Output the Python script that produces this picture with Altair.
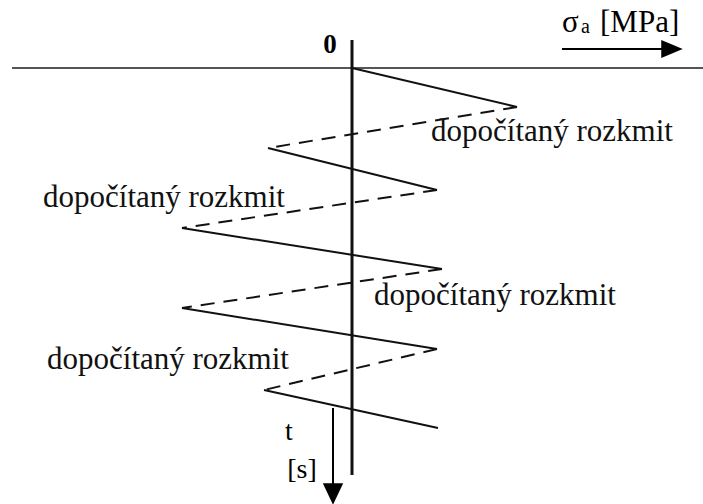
import altair as alt
import pandas as pd

# Stress amplitude turning points (sigma) over time t, plotted downward
sigma_points = [0, 165, -84, 85, -170, 90, -170, 85, -88, 86]
time_points = [0, 39, 80, 122, 160, 201, 240, 281, 322, 360]
# Each half-cycle: measured (solid) or computed/added (dashed)
segment_kind = ["solid", "dashed", "solid", "dashed", "solid",
                "dashed", "solid", "dashed", "solid"]

label_text = "dopočítaný rozkmit"
label_sigma = [200, -188, 143, -184]
label_time = [64, 130, 228, 292]

W, H = 703, 504
SIG_DOMAIN = [-352, 351]
T_DOMAIN = [-68, 436]
SERIF = "'Liberation Serif', 'Times New Roman', 'DejaVu Serif', serif"

xs = alt.Scale(domain=SIG_DOMAIN, nice=False, zero=False)
ys = alt.Scale(domain=T_DOMAIN, nice=False, zero=False, reverse=True)

segments = pd.DataFrame({
    "s0": sigma_points[:-1], "s1": sigma_points[1:],
    "t0": time_points[:-1], "t1": time_points[1:],
    "kind": segment_kind,
})


def seg_layer(kind, dash):
    props = dict(color="#111", strokeWidth=2)
    if dash:
        props["strokeDash"] = dash
    return alt.Chart(segments).transform_filter(
        alt.datum.kind == kind
    ).mark_rule(**props).encode(
        x=alt.X("s0:Q", scale=xs, axis=None),
        y=alt.Y("t0:Q", scale=ys, axis=None),
        x2="s1:Q", y2="t1:Q",
    )


solid = seg_layer("solid", None)
dashed = seg_layer("dashed", [14, 9])

# Coordinate axes
axes_df = pd.DataFrame({
    "s0": [-340, 0], "s1": [351, 0],
    "t0": [0, -28], "t1": [0, 407],
    "w": [2, 3], "c": ["#555", "#111"],
})
axes_lines = alt.Chart(axes_df).mark_rule().encode(
    x=alt.X("s0:Q", scale=xs, axis=None),
    y=alt.Y("t0:Q", scale=ys, axis=None),
    x2="s1:Q", y2="t1:Q",
    strokeWidth=alt.StrokeWidth("w:Q", scale=None, legend=None),
    color=alt.Color("c:N", scale=None, legend=None),
)

# Direction arrows for sigma and t
arrow_df = pd.DataFrame({
    "s0": [210, -19], "s1": [312, -19],
    "t0": [-19, 340], "t1": [-19, 418],
})
arrow_lines = alt.Chart(arrow_df).mark_rule(color="#000", strokeWidth=2).encode(
    x=alt.X("s0:Q", scale=xs, axis=None),
    y=alt.Y("t0:Q", scale=ys, axis=None),
    x2="s1:Q", y2="t1:Q",
)
heads_df = pd.DataFrame({
    "s": [320, -19], "t": [-19, 426],
    "shape": ["M-1,-0.85L1,0L-1,0.85Z", "M-0.95,-1L0.95,-1L0,1Z"],
})
heads = alt.Chart(heads_df).mark_point(
    filled=True, color="#000", opacity=1, size=460, strokeWidth=0
).encode(
    x=alt.X("s:Q", scale=xs, axis=None),
    y=alt.Y("t:Q", scale=ys, axis=None),
    shape=alt.Shape("shape:N", scale=None, legend=None),
)

labels_df = pd.DataFrame({"s": label_sigma, "t": label_time, "txt": [label_text] * 4})
labels = alt.Chart(labels_df).mark_text(
    font=SERIF, fontSize=31, color="#111", align="center", baseline="middle"
).encode(
    x=alt.X("s:Q", scale=xs, axis=None),
    y=alt.Y("t:Q", scale=ys, axis=None),
    text="txt:N",
)


def text_at(s, t, txt, size, weight="normal", align="left", baseline="alphabetic"):
    df = pd.DataFrame({"s": [s], "t": [t], "txt": [txt]})
    return alt.Chart(df).mark_text(
        font=SERIF, fontSize=size, fontWeight=weight,
        color="#000", align=align, baseline=baseline
    ).encode(
        x=alt.X("s:Q", scale=xs, axis=None),
        y=alt.Y("t:Q", scale=ys, axis=None),
        text="txt:N",
    )


zero_lbl = text_at(-22, -15, "0", 27, weight="bold", align="center")
sig_lbl = text_at(210, -36, "σ", 31)
sub_lbl = text_at(229, -35, "a", 20)
unit_lbl = text_at(248, -36, "[MPa]", 31)
t_lbl = text_at(-63, 372, "t", 28, align="center")
s_lbl = text_at(-50, 410, "[s]", 28, align="center")

chart = alt.layer(
    axes_lines, solid, dashed, arrow_lines, heads, labels,
    zero_lbl, sig_lbl, sub_lbl, unit_lbl, t_lbl, s_lbl,
).properties(
    width=W, height=H, padding=0, autosize=alt.AutoSizeParams(type="none"),
    background="white",
).configure_view(stroke=None)

chart.save("out.html", embed_options={"renderer": "svg", "actions": False})
